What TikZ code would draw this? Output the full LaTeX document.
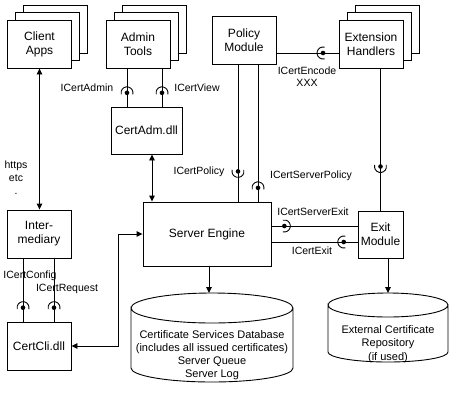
\documentclass[tikz,border=0pt]{standalone}
\usepackage{fontspec}
\setmainfont{Liberation Sans}
\usetikzlibrary{positioning,arrows.meta,shadows}

\begin{document}
\begin{tikzpicture}[
    x=1pt, y=1pt, line width=0.9pt,
    box/.style={rectangle, draw, fill=white, minimum width=64, minimum height=48, inner sep=2pt, align=center, font=\fontsize{12}{14}\selectfont},
    pages/.style={double copy shadow={shadow xshift=8pt, shadow yshift=7.5pt, draw, fill=white}},
    lbl/.style={inner sep=0pt, align=center, font=\fontsize{10.5}{12}\selectfont},
    store/.style={inner sep=0pt, align=center, font=\fontsize{11}{13}\selectfont},
    arrow/.style={-{Triangle[length=6pt,width=5.5pt]}},
    dblarrow/.style={{Triangle[length=6pt,width=5.5pt]}-{Triangle[length=6pt,width=5.5pt]}},
    socket/.pic={\fill (0,0) circle (2.3); \draw (-15:6) arc[start angle=-15, end angle=195, radius=6];}
]
    \useasboundingbox (0,0) rectangle (458,-400);

    \node[box, pages] (client) at (39.5,-44) {Client\\Apps};
    \node[box, pages] (admin) at (138,-44) {Admin\\Tools};
    \node[box] (policy) at (244,-40) {Policy\\Module};
    \node[box, pages] (ext) at (371,-44) {Extension\\Handlers};
    \node[box, minimum width=71, minimum height=47] (certadm) at (146.5,-130.5) {CertAdm.dll};
    \node[box, minimum width=128, minimum height=64] (server) at (207,-234) {Server Engine};
    \node[box, minimum width=45, minimum height=47] (exit) at (380.5,-234.5) {Exit\\Module};
    \node[box] (inter) at (39,-234) {Inter-\\mediary};
    \node[box] (certcli) at (39,-346) {CertCli.dll};

    \node[store] (db) at (212,-355) {Certificate Services Database\\(includes all issued certificates)\\Server Queue\\Server Log};
    \draw (131,-308) arc[start angle=180, end angle=-180, x radius=81, y radius=15] -- (131,-368)
        arc[start angle=180, end angle=360, x radius=81, y radius=14] -- (293,-308);
    \coordinate (dbtop) at (209,-293);

    \node[store, font=\fontsize{11}{13.5}\selectfont] (repo) at (388,-344) {External Certificate\\Repository\\(if used)};
    \draw (328,-305) arc[start angle=180, end angle=-180, x radius=60, y radius=12] -- (328,-352)
        arc[start angle=180, end angle=360, x radius=60, y radius=10] -- (448,-305);
    \coordinate (repotop) at (388,-293);

    \draw[dblarrow] (client.south) -- (client.south |- inter.north);
    \draw ([xshift=-11]admin.south) -- ([xshift=-11]admin.south |- certadm.north) pic[pos=0.64]{socket};
    \draw ([xshift=24]admin.south) -- ([xshift=24]admin.south |- certadm.north) pic[pos=0.64]{socket};
    \draw[dblarrow] ([xshift=5.5]certadm.south) -- ([xshift=5.5]certadm.south |- server.north);
    \draw ([xshift=-6]policy.south) -- ([xshift=-6]policy.south |- server.north) pic[pos=0.78, rotate=180]{socket};
    \draw ([xshift=14]policy.south) -- ([xshift=14]policy.south |- server.north) pic[pos=0.9]{socket};
    \draw ([yshift=-13]policy.east) -- ([yshift=-13]policy.east -| ext.west) pic[pos=0.75, rotate=90]{socket};
    \draw (ext.south -| exit.north) -- (exit.north) pic[pos=0.69, rotate=180]{socket};
    \draw ([yshift=8]server.east) -- ([yshift=8]server.east -| exit.west) pic[pos=0.15, rotate=-90]{socket};
    \draw ([yshift=-8]server.east) -- ([yshift=-8]server.east -| exit.west) pic[pos=0.84, rotate=90]{socket};
    \draw[arrow] ([xshift=2]server.south) -- (dbtop);
    \draw[arrow] (exit.south -| repotop) -- (repotop);
    \draw ([xshift=-16]inter.south) -- ([xshift=-16]inter.south |- certcli.north) pic[pos=0.78]{socket};
    \draw ([xshift=15]inter.south) -- ([xshift=15]inter.south |- certcli.north) pic[pos=0.78]{socket};
    \draw[dblarrow] (certcli.east) -- ++(47,0) |- (server.west);

    \node[lbl] (lAdmin) at (87,-88) {ICertAdmin};
    \node[lbl] (lView) at (197,-88) {ICertView};
    \node[lbl] (lPolicy) at (199,-172) {ICertPolicy};
    \node[lbl] (lSrvPolicy) at (311,-176) {ICertServerPolicy};
    \node[lbl] (lEncode) at (307,-77) {ICertEncode\\XXX};
    \node[lbl] (lSrvExit) at (313,-212) {ICertServerExit};
    \node[lbl] (lExit) at (312,-251) {ICertExit};
    \node[lbl] (lConfig) at (30,-276) {ICertConfig};
    \node[lbl] (lRequest) at (67,-289) {ICertRequest};
    \node[lbl, font=\fontsize{10.5}{13}\selectfont] (lHttps) at (16,-178) {https\\etc\\.};
\end{tikzpicture}
\end{document}
